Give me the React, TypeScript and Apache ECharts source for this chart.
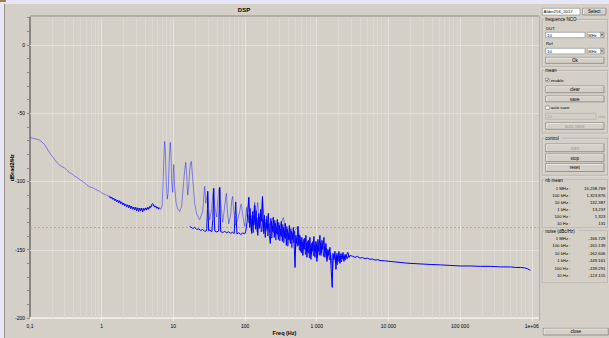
import React, { useEffect, useRef } from "react";
import * as echarts from "echarts";

// ---------- data ----------
const xTickLabels = ["0,1", "1", "10", "100", "1 000", "10 000", "100 000", "1e+06"];
const yLabelStep = 50;
const refLevel = -133.8;
const yMajorLines = [0, -50, -100, -150];
const freqMin = 0.1;
const freqMax = 1.26e6;
const dbMin = -200;
const dbMax = 20;

// light trace: 0.1 Hz .. 6.4 Hz
const lowBandTrace: [number, number][] = [
  [0.1, -68.0], [0.108, -68.3], [0.116, -68.7], [0.125, -69.1], [0.136, -69.8], [0.147, -71.2], [0.159, -72.9],
  [0.172, -75.8], [0.187, -79.0], [0.203, -81.4], [0.22, -83.9], [0.238, -86.2], [0.258, -88.1], [0.28, -89.3],
  [0.303, -90.0], [0.33, -92.0], [0.356, -93.6], [0.386, -94.6], [0.418, -96.1], [0.452, -97.0], [0.49, -98.5],
  [0.53, -99.6], [0.576, -101.0], [0.623, -102.6], [0.676, -103.9], [0.735, -104.5], [0.794, -105.3],
  [0.86, -106.4], [0.932, -107.1], [1.01, -108.6], [1.095, -109.5], [1.19, -110.2], [1.289, -111.5],
  [1.4, -112.2], [1.51, -113.2], [1.64, -113.9], [1.778, -114.4], [1.93, -115.9], [2.08, -116.8],
  [2.26, -117.3], [2.45, -118.1], [2.65, -118.9], [2.87, -119.3], [3.12, -119.6], [3.38, -120.0],
  [3.66, -120.3], [3.96, -120.0], [4.3, -119.7], [4.67, -119.3], [4.95, -118.4], [5.18, -117.6],
  [5.45, -118.0], [5.78, -119.3], [6.1, -119.6], [6.41, -119.3]
];

// light trace with the spurious harmonics: 6.6 Hz .. 600 Hz
const harmonicTrace: [number, number][] = [
  [6.65, -120.5], [6.97, -118.0], [7.2, -98.0], [7.44, -77.0], [7.56, -70.7], [7.74, -78.0], [7.94, -100.0],
  [8.2, -113.0], [8.47, -108.0], [8.74, -85.0], [9.05, -71.4], [9.26, -80.0], [9.47, -100.0], [9.78, -108.0],
  [10.1, -87.6], [10.43, -104.0], [10.94, -116.0], [11.48, -120.0], [12.24, -122.0], [13.06, -118.0],
  [13.93, -100.0], [14.38, -92.0], [14.85, -86.1], [15.34, -95.0], [15.84, -110.0], [16.36, -104.0],
  [16.89, -92.0], [17.44, -86.0], [17.85, -85.4], [18.6, -98.0], [19.84, -116.0], [21.16, -124.0],
  [23.3, -128.0], [25.65, -122.0], [26.5, -112.0], [27.36, -103.7], [28.25, -116.0], [29.18, -112.0],
  [30.13, -107.3], [31.11, -120.0], [32.13, -128.0], [34.26, -120.0], [35.38, -110.0], [36.54, -105.1],
  [37.73, -118.0], [40.24, -126.0], [41.56, -114.0], [42.92, -106.0], [44.32, -104.4], [45.77, -116.0],
  [48.81, -130.0], [52.05, -118.0], [53.75, -112.0], [54.99, -108.8], [56.4, -120.0], [59.2, -131.0],
  [63.1, -124.0], [65.2, -114.0], [67.3, -111.0], [69.5, -122.0], [74.1, -132.0], [79.0, -128.0],
  [84.3, -122.0], [87.1, -117.0], [89.1, -116.8], [92.9, -125.0], [99.1, -133.0], [104.7, -119.0],
  [107, -126.0], [112.7, -111.7], [116.4, -122.0], [124, -132.0], [132.4, -120.0], [136.7, -115.4],
  [141, -126.0], [150.5, -115.4], [155.4, -128.0], [165.8, -124.0], [175.1, -111.7], [185.6, -130.0],
  [204, -134.0], [247.9, -126.4], [264, -138.0], [300, -134.0], [341.9, -126.4], [376.6, -140.0],
  [430, -140.0], [545.5, -133.0], [600, -145.0]
];

// dark (dense) trace: 1.3 Hz .. 6.4 Hz
const lowBandJitter: [number, number][] = [
  [1.289, -110.6], [1.331, -112.3], [1.375, -111.4], [1.42, -113.1], [1.466, -112.2], [1.514, -114.0],
  [1.563, -113.0], [1.614, -114.9], [1.667, -113.8], [1.722, -115.6], [1.778, -114.2], [1.836, -116.3],
  [1.896, -115.0], [1.958, -117.1], [2.022, -115.8], [2.088, -117.8], [2.156, -116.6], [2.227, -118.6],
  [2.3, -117.2], [2.375, -119.3], [2.453, -117.6], [2.533, -119.9], [2.616, -118.2], [2.701, -120.4],
  [2.79, -118.8], [2.881, -120.9], [2.975, -119.0], [3.072, -121.6], [3.173, -119.4], [3.276, -122.0],
  [3.383, -119.6], [3.494, -121.4], [3.608, -119.5], [3.726, -122.3], [3.848, -119.8], [3.974, -121.2],
  [4.104, -119.4], [4.238, -121.0], [4.377, -118.9], [4.52, -120.4], [4.667, -118.4], [4.82, -119.2],
  [4.977, -117.0], [5.14, -116.2], [5.308, -117.4], [5.482, -118.8], [5.661, -117.9], [5.846, -119.6],
  [6.037, -118.7], [6.235, -120.2], [6.438, -119.6]
];

// dark trace: floor between the harmonics, 17 Hz .. 102 Hz
const baselineTrace: [number, number][] = [
  [16.89, -132.9], [18.6, -134.4], [19.84, -133.7], [21.16, -135.1], [22.6, -134.8], [24.1, -135.9],
  [25.65, -135.1], [27.36, -136.6], [29.18, -135.9], [29.9, -120.0], [30.13, -107.3], [30.5, -122.0],
  [31.11, -136.2], [32.13, -135.5], [34.26, -136.9], [35.6, -128.0], [36.54, -105.1], [37.2, -126.0],
  [37.73, -136.3], [40.24, -137.0], [42.92, -136.2], [43.7, -118.0], [44.32, -104.4], [45, -124.0],
  [45.77, -136.8], [48.81, -137.4], [52.05, -136.6], [54.99, -137.6], [59.2, -136.9], [63.1, -138.0],
  [67.3, -137.2], [70.5, -138.2], [72.5, -125.0], [74.1, -115.0], [75.5, -128.0], [77, -138.4],
  [82, -137.6], [87.1, -138.8], [92.9, -137.8], [99.1, -138.4], [102.3, -136.6]
];

// dark trace: noisy band, 107 Hz .. 2.9 kHz
const noiseTrace: [number, number][] = [
  [107, -129.3], [112.7, -111.7], [116.4, -133.7], [120.2, -124.9], [124.1, -138.1], [128.2, -122.0],
  [132.4, -132.2], [136.7, -117.6], [141.1, -135.1], [145.8, -126.4], [150.5, -139.5], [155.4, -123.4],
  [160.5, -133.7], [165.8, -120.5], [171.2, -129.3], [175.1, -111.0], [179.7, -136.6], [185.6, -124.9],
  [191.6, -141.0], [197.9, -127.8], [204.4, -135.1], [211.1, -123.4], [218, -139.5], [225, -145.4],
  [232.4, -129.3], [240, -136.6], [247.9, -126.4], [256, -141.0], [264.3, -130.7], [273, -138.1],
  [281.9, -127.8], [291.1, -142.5], [300.6, -132.2], [310.5, -139.5], [320.6, -129.3], [331.1, -143.9],
  [341.9, -133.7], [353.1, -141.0], [364.6, -130.7], [376.6, -146.8], [388.9, -135.1], [401.6, -142.5],
  [414.7, -132.2], [428.3, -145.4], [442.3, -136.6], [456.8, -142.5], [471.7, -133.7], [487.2, -149.8],
  [498.5, -163.0], [511.5, -139.5], [528.2, -145.4], [545.5, -132.9], [563.3, -146.8], [581.7, -139.5],
  [600.8, -151.2], [620.4, -141.0], [640.7, -154.2], [661.7, -142.5], [683.3, -149.8], [705.7, -139.5],
  [728.8, -155.6], [752.6, -143.9], [777.2, -152.7], [802.6, -141.0], [828.9, -157.1], [856, -145.4],
  [884, -151.2], [912.9, -140.3], [942.7, -155.6], [973.6, -143.9], [1005, -158.6], [1038, -142.5],
  [1072, -151.2], [1107, -139.5], [1143, -154.2], [1181, -143.2], [1219, -149.8], [1259, -141.0],
  [1300, -155.6], [1343, -145.4], [1387, -158.6], [1432, -149.8], [1479, -154.2], [1527, -148.3],
  [1577, -161.5], [1644, -177.6], [1682, -152.7], [1737, -157.1], [1794, -151.2], [1853, -164.4],
  [1913, -152.7], [1976, -158.6], [2040, -151.2], [2107, -160.0], [2176, -152.7], [2247, -157.1],
  [2321, -152.0], [2397, -158.6], [2475, -153.4], [2558, -156.4], [2641, -152.7], [2728, -152.0],
  [2817, -155.6], [2909, -154.2]
];

// second overlapping dark trace inside the noisy band
const noiseTraceB: [number, number][] = [
  [110, -124.0], [114, -130.5], [118, -119.8], [122, -136.0], [126, -127.0], [130, -137.5], [134.5, -125.0],
  [139, -131.0], [143.5, -121.5], [148, -137.0], [153, -128.5], [158, -134.5], [163, -126.0], [168.5, -137.0],
  [177, -127.5], [182.5, -138.5], [188.5, -130.0], [194.7, -136.5], [201, -125.5], [207.7, -140.0],
  [214.5, -131.0], [221.5, -137.5], [228.7, -127.0], [236, -141.5], [244, -133.0], [252, -137.5],
  [260, -128.5], [268.6, -143.0], [277.4, -133.5], [286.5, -139.0], [295.8, -130.0], [305.5, -143.5],
  [315.5, -135.0], [325.8, -140.5], [336.5, -131.5], [347.5, -145.0], [358.8, -136.0], [370.6, -142.0],
  [382.7, -133.0], [395.2, -147.5], [408, -138.0], [421.5, -143.0], [435.2, -134.5], [449.5, -148.5],
  [464.2, -139.0], [479.4, -145.0], [492.8, -136.5], [505, -150.0], [520, -141.5], [536.8, -147.5],
  [554.3, -138.5], [572.4, -150.5], [591.2, -142.5], [610.5, -152.5], [630.5, -144.5], [651, -149.5],
  [672.4, -141.5], [694.4, -153.5], [717.1, -145.0], [740.6, -151.5], [764.8, -143.0], [789.8, -156.0],
  [815.6, -147.0], [842.3, -153.5], [869.9, -144.0], [898.3, -154.5], [927.7, -146.5], [958, -152.0],
  [989.3, -145.5], [1021, -156.0], [1055, -147.0], [1089, -154.0], [1125, -145.0], [1162, -152.5],
  [1200, -146.5], [1239, -155.0], [1279, -147.5], [1321, -152.0], [1365, -149.0], [1409, -156.5],
  [1455, -151.0], [1503, -157.5], [1552, -152.5], [1610, -158.0], [1663, -165.0], [1709, -155.0],
  [1765, -153.0], [1823, -159.5], [1883, -154.5], [1944, -161.0], [2008, -154.0], [2073, -158.5],
  [2141, -155.0], [2211, -159.0], [2284, -154.5], [2359, -157.0], [2436, -155.0], [2516, -157.5],
  [2600, -154.5], [2684, -156.5], [2772, -154.0], [2863, -155.5]
];

// dark trace: smooth floor, 3 kHz .. 1 MHz
const tailTrace: [number, number][] = [
  [3150, -154.8], [3417, -155.6], [3700, -154.9], [4014, -156.2], [4350, -155.7], [4700, -156.6],
  [5100, -156.2], [5538, -157.1], [6000, -156.8], [6500, -157.6], [7100, -157.3], [7640, -157.9],
  [8800, -158.1], [10540, -158.6], [12300, -158.9], [14540, -159.3], [17000, -159.7], [20060, -160.0],
  [27680, -160.4], [38190, -160.8], [52690, -161.1], [72700, -161.5], [100300, -161.9], [138400, -161.9],
  [191000, -162.2], [263500, -162.2], [363600, -162.6], [501700, -162.6], [589000, -163.0],
  [692200, -163.0], [791000, -163.3], [874000, -164.0], [955000, -165.1]
];

// side panel texts
const fileName = "Alder256_2017";
const rowLabels = ["1 MHz :", "100 kHz :", "10 kHz :", "1 kHz :", "100 Hz :", "10 Hz :"];
const nbMeanValues = ["13,238,769", "1,323,876", "132,387", "13,237", "1,323", "131"];
const noiseValues = ["-166.729", "-165.139", "-162.606", "-149.161", "-139.291", "-123.155"];

// ---------- drawing helpers ----------
const FONT = "'Liberation Sans', 'DejaVu Sans', sans-serif";
const BG = "#d4d0c8";

function txt(x: number, y: number, s: string, o: any = {}) {
  return {
    type: "text", silent: true, z: 30,
    style: {
      x, y, text: s, fontSize: o.size ?? 4.5, fontFamily: FONT,
      fontWeight: o.bold ? "bold" : "normal", fill: o.color ?? "#000",
      align: o.align ?? "left", verticalAlign: "middle"
    }
  };
}
function rect(x: number, y: number, w: number, h: number, fill: string, stroke: string | null, lw = 0.6) {
  return {
    type: "rect", silent: true, z: 20,
    shape: { x, y, width: w, height: h },
    style: { fill, stroke: stroke ?? "none", lineWidth: stroke ? lw : 0 }
  };
}
function line(x1: number, y1: number, x2: number, y2: number, color: string, lw = 0.6) {
  return { type: "line", silent: true, z: 21, shape: { x1, y1, x2, y2 }, style: { stroke: color, lineWidth: lw } };
}
function button(x: number, y: number, w: number, h: number, label: string, disabled = false) {
  return [
    rect(x, y, w, h, BG, "#6c6a66", 0.6),
    {
      type: "polyline", silent: true, z: 21,
      shape: { points: [[x + 0.7, y + h - 0.7], [x + 0.7, y + 0.7], [x + w - 0.7, y + 0.7]] },
      style: { stroke: "#ffffff", lineWidth: 0.6, fill: "none" }
    },
    txt(x + w / 2, y + h / 2 + 0.2, label, { align: "center", color: disabled ? "#a09d96" : "#000" })
  ];
}
function groupBox(x: number, y: number, w: number, h: number, label: string) {
  const lw = label.length * 2.25 + 2;
  return [
    rect(x + 0.5, y + 0.5, w, h, "none", "#ffffff", 0.5),
    rect(x, y, w, h, "none", "#8f8b84", 0.5),
    rect(x + 2, y - 2.5, lw, 5, BG, null),
    txt(x + 3, y, label)
  ];
}
function inputBox(x: number, y: number, w: number, h: number, value: string, disabled = false) {
  return [
    rect(x, y, w, h, disabled ? BG : "#ffffff", disabled ? "#a5a19a" : "#6f6f6f", 0.5),
    txt(x + 1.3, y + h / 2 + 0.2, value, { size: 4.3, color: disabled ? "#a09d96" : "#000" })
  ];
}
function dropDown(x: number, y: number, w: number, h: number, value: string) {
  return [
    rect(x, y, w, h, "#ffffff", "#6f6f6f", 0.5),
    txt(x + 1, y + h / 2 + 0.2, value, { size: 4.0 }),
    rect(x + w - 3.6, y + 0.6, 3, h - 1.2, BG, "#6f6f6f", 0.4),
    {
      type: "polygon", silent: true, z: 31,
      shape: { points: [[x + w - 3.0, y + h / 2 - 0.7], [x + w - 1.2, y + h / 2 - 0.7], [x + w - 2.1, y + h / 2 + 0.7]] },
      style: { fill: "#000" }
    }
  ];
}
function checkBox(x: number, y: number, checked: boolean) {
  const els: any[] = [rect(x, y, 3.4, 3.4, "#ffffff", "#5f5f5f", 0.5)];
  if (checked) {
    els.push({
      type: "polyline", silent: true, z: 31,
      shape: { points: [[x + 0.7, y + 1.7], [x + 1.4, y + 2.6], [x + 2.8, y + 0.7]] },
      style: { stroke: "#000", lineWidth: 0.6, fill: "none" }
    });
  }
  return els;
}

function buildGraphics() {
  const g: any[] = [];
  // window chrome
  g.push(rect(0, 0, 609, 4, "#e6e6f6", null));
  g.push(rect(0, 0, 4, 338, "#e6e6f6", null));
  g.push(rect(0, 0, 6, 2, "#a3804a", null));
  g.push(line(4.5, 4, 4.5, 338, "#9b978f", 1));
  g.push(line(30, 16, 539, 16, "#8f8b85", 1));
  g.push(line(539.5, 16, 539.5, 321, "#b4b0a8", 1));
  g.push(txt(244, 10, "DSP", { size: 6, bold: true, align: "center" }));

  // side panel
  g.push(...inputBox(542.3, 8.3, 37.7, 6.7, fileName));
  g.push(...button(582.7, 8.3, 23.3, 6.7, "Select"));

  g.push(...groupBox(542.3, 19.5, 65.4, 47.2, "frequence NCO"));
  g.push(txt(546, 28.3, "DUT", { size: 4.3 }));
  g.push(...inputBox(545.7, 32.3, 39.3, 5.4, "10"));
  g.push(...dropDown(587.3, 32.3, 16.7, 5.4, "MHz"));
  g.push(txt(546, 43.3, "Ref", { size: 4.3 }));
  g.push(...inputBox(545.7, 48.3, 39.3, 5.6, "10"));
  g.push(...dropDown(587.3, 48.3, 16.7, 5.6, "MHz"));
  g.push(...button(545.7, 57.3, 58.3, 6, "Ok"));

  g.push(...groupBox(542.3, 70.7, 65.4, 62.5, "mean"));
  g.push(...checkBox(545.7, 78.3, true));
  g.push(txt(550.7, 80, "enable", { size: 4.3 }));
  g.push(...button(545.7, 86, 58.3, 6.7, "clear"));
  g.push(...button(545.7, 96, 58.3, 5.9, "save"));
  g.push(...checkBox(545.7, 106, false));
  g.push(txt(550.7, 107.7, "auto save", { size: 4.3 }));
  g.push(...inputBox(545.7, 113.3, 50.3, 6, "10", true));
  g.push(txt(598.3, 116.4, "min", { size: 4.3, color: "#a09d96" }));
  g.push(...button(545.7, 122.7, 58.3, 6.6, "auto save", true));

  g.push(...groupBox(542.3, 138.3, 65.4, 37, "control"));
  g.push(...button(545.7, 144, 58.3, 7.7, "start", true));
  g.push(...button(545.7, 154, 58.3, 7.7, "stop"));
  g.push(...button(545.7, 163.5, 58.3, 8, "reset"));

  const nbRows = [188.3, 195.3, 202.5, 209.5, 216.7, 223.8];
  g.push(...groupBox(542.3, 180, 65.4, 48, "nb mean"));
  rowLabels.forEach((l, i) => {
    g.push(txt(570.5, nbRows[i], l, { align: "right", size: 4.3 }));
    g.push(txt(605.5, nbRows[i], nbMeanValues[i], { align: "right", size: 4.3 }));
  });

  const noiseRows = [238.3, 245.7, 253.2, 260.6, 268.1, 275.6];
  g.push(...groupBox(542.3, 231, 65.4, 52, "noise (dBc/Hz)"));
  rowLabels.forEach((l, i) => {
    g.push(txt(570.5, noiseRows[i], l, { align: "right", size: 4.3 }));
    g.push(txt(605.5, noiseRows[i], noiseValues[i], { align: "right", size: 4.3 }));
  });

  g.push(...button(543.3, 328.3, 65, 6.7, "close"));
  return g;
}

function buildOption() {
  // minor log grid positions (2..9 per decade)
  const minorGrid: [number, number][] = [];
  for (let d = -1; d <= 5; d++) {
    for (let m = 2; m <= 9; m++) minorGrid.push([m * Math.pow(10, d), dbMin]);
  }
  const hGrid: [number, number][] = yMajorLines.map((v) => [freqMin, v]);

  return {
    animation: false,
    backgroundColor: BG,
    textStyle: { fontFamily: FONT },
    grid: {
      left: 30, top: 17.5, width: 509, height: 300.5,
      show: true, backgroundColor: BG, borderWidth: 0,
      containLabel: false, outerBoundsMode: "none"
    },
    xAxis: {
      type: "log", logBase: 10, min: freqMin, max: freqMax,
      name: "Freq (Hz)", nameLocation: "middle", nameGap: 12, nameMoveOverlap: false,
      nameTextStyle: { fontSize: 5.5, fontWeight: "bold", color: "#000", fontFamily: FONT },
      axisLine: { show: true, onZero: false, lineStyle: { color: "#f4f2ee", width: 1.5 } },
      axisTick: { show: true, length: 3, lineStyle: { color: "#f4f2ee", width: 1 } },
      axisLabel: {
        fontSize: 5, color: "#000", margin: 5, fontFamily: FONT,
        formatter: (v: number) => {
          const e = Math.log10(v);
          const r = Math.round(e);
          return Math.abs(e - r) < 1e-6 ? xTickLabels[r + 1] ?? "" : "";
        }
      },
      splitLine: { show: true, lineStyle: { color: "#e6e4df", width: 1 } }
    },
    yAxis: {
      type: "value", min: dbMin, max: dbMax, interval: 10,
      name: "dBrad2/Hz", nameLocation: "middle", nameGap: 15, nameMoveOverlap: false,
      nameTextStyle: { fontSize: 5.5, fontWeight: "bold", color: "#000", fontFamily: FONT },
      axisLine: { show: true, onZero: false, lineStyle: { color: "#8a8782", width: 2 } },
      axisTick: { show: true, length: 3, lineStyle: { color: "#8a8782", width: 1 } },
      axisLabel: {
        fontSize: 5, color: "#000", margin: 5, fontFamily: FONT,
        formatter: (v: number) => (v % yLabelStep === 0 ? String(v) : "")
      },
      splitLine: { show: false }
    },
    series: [
      {
        type: "custom", data: minorGrid, z: 1, silent: true, encode: { x: 0, y: 1 },
        renderItem: (_p: any, api: any) => {
          const top = api.coord([api.value(0), dbMax]);
          const bot = api.coord([api.value(0), dbMin]);
          const x = Math.round(top[0]) + 0.5;
          return { type: "line", shape: { x1: x, y1: top[1], x2: x, y2: bot[1] }, style: { stroke: "#dcd9d2", lineWidth: 1 } };
        }
      },
      {
        type: "custom", data: hGrid, z: 1, silent: true, encode: { x: 0, y: 1 },
        renderItem: (_p: any, api: any) => {
          const a = api.coord([freqMin, api.value(1)]);
          const b = api.coord([freqMax, api.value(1)]);
          const y = Math.round(a[1]) + 0.5;
          return { type: "line", shape: { x1: a[0], y1: y, x2: b[0], y2: y }, style: { stroke: "#e3e1dc", lineWidth: 1 } };
        }
      },
      {
        type: "line", data: [[freqMin, refLevel], [freqMax, refLevel]], z: 2, symbol: "none", silent: true,
        lineStyle: { color: "#e8a030", width: 1, type: [2, 2] }
      },
      {
        type: "line", data: [...lowBandTrace, ...harmonicTrace], z: 3, symbol: "none", silent: true,
        lineStyle: { color: "rgba(0,0,255,0.42)", width: 1 }
      },
      {
        type: "line", data: lowBandJitter, z: 4, symbol: "none", silent: true,
        lineStyle: { color: "#0000ff", width: 1 }
      },
      {
        type: "line", data: noiseTraceB, z: 4, symbol: "none", silent: true,
        lineStyle: { color: "rgba(0,0,255,0.75)", width: 1 }
      },
      {
        type: "line", data: [...baselineTrace, ...noiseTrace, ...tailTrace], z: 5, symbol: "none", silent: true,
        lineStyle: { color: "#0000ff", width: 1 }
      }
    ],
    graphic: buildGraphics()
  };
}

export default function App() {
  const ref = useRef<HTMLDivElement>(null);
  useEffect(() => {
    document.body.style.margin = "0";
    const chart = echarts.init(ref.current!, null, { renderer: "svg" });
    chart.setOption(buildOption() as any);
    return () => chart.dispose();
  }, []);
  return <div ref={ref} style={{ width: 609, height: 338 }} />;
}
